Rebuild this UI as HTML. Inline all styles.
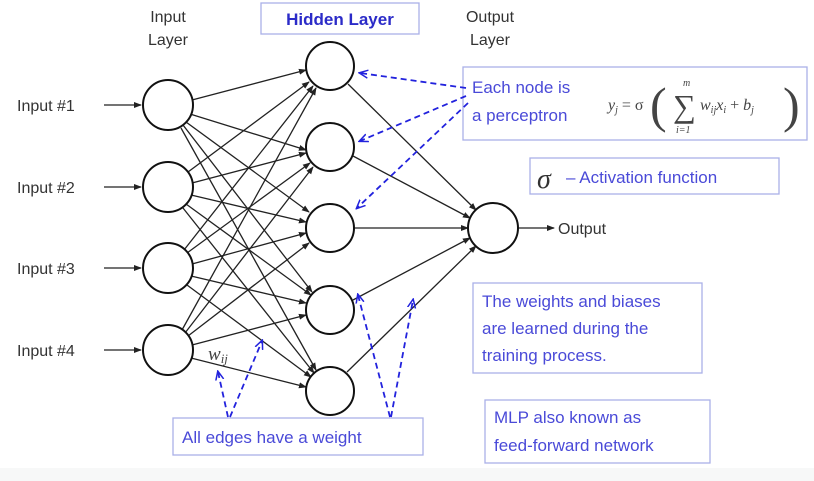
<!DOCTYPE html>
<html><head><meta charset="utf-8"><style>
html,body{margin:0;padding:0;background:#fff;}
svg{display:block;font-family:"Liberation Sans",sans-serif;}
</style></head><body>
<svg width="814" height="481" viewBox="0 0 814 481" xmlns="http://www.w3.org/2000/svg">
<defs>
<marker id="a" markerWidth="8" markerHeight="8" refX="7" refY="4" orient="auto" markerUnits="userSpaceOnUse"><path d="M0,1 L8,4 L0,7 z" fill="#222"/></marker>
<marker id="b" markerWidth="10" markerHeight="10" refX="8" refY="5" orient="auto" markerUnits="userSpaceOnUse"><path d="M0,1 L9,5 L0,9" fill="none" stroke="#2222dd" stroke-width="1.5"/></marker>
</defs>
<rect x="0" y="468" width="814" height="13" fill="#f7f8f8"/>
<g stroke="#222" stroke-width="1.3" marker-end="url(#a)" fill="none">
<line x1="192" y1="100" x2="306" y2="70"/><line x1="190" y1="114" x2="306" y2="150"/><line x1="186" y1="122" x2="309" y2="212"/><line x1="183" y1="125" x2="312" y2="292"/><line x1="181" y1="128" x2="316" y2="370"/>
<line x1="188" y1="172" x2="309" y2="82"/><line x1="192" y1="183" x2="306" y2="153"/><line x1="191" y1="195" x2="306" y2="222"/><line x1="186" y1="204" x2="311" y2="295"/><line x1="183" y1="208" x2="314" y2="373"/>
<line x1="184" y1="250" x2="313" y2="86"/><line x1="187" y1="253" x2="310" y2="163"/><line x1="192" y1="264" x2="306" y2="233"/><line x1="191" y1="276" x2="306" y2="303"/><line x1="187" y1="285" x2="311" y2="377"/>
<line x1="182" y1="330" x2="316" y2="88"/><line x1="185" y1="333" x2="313" y2="167"/><line x1="188" y1="336" x2="309" y2="243"/><line x1="192" y1="345" x2="306" y2="315"/><line x1="191" y1="358" x2="306" y2="387"/>
<line x1="348" y1="84" x2="476" y2="210"/><line x1="353" y1="156" x2="470" y2="218"/><line x1="354" y1="228" x2="468" y2="228"/><line x1="353" y1="300" x2="470" y2="238"/><line x1="347" y1="372" x2="476" y2="246"/>
<line x1="104" y1="105" x2="141" y2="105"/><line x1="104" y1="187" x2="141" y2="187"/><line x1="104" y1="268" x2="141" y2="268"/><line x1="104" y1="350" x2="141" y2="350"/>
<line x1="518" y1="228" x2="554" y2="228"/>
</g>
<g fill="#fff" stroke="#111" stroke-width="2">
<circle cx="168" cy="105" r="25"/><circle cx="168" cy="187" r="25"/><circle cx="168" cy="268" r="25"/><circle cx="168" cy="350" r="25"/>
<circle cx="330" cy="66" r="24"/><circle cx="330" cy="147" r="24"/><circle cx="330" cy="228" r="24"/><circle cx="330" cy="310" r="24"/><circle cx="330" cy="391" r="24"/>
<circle cx="493" cy="228" r="25"/>
</g>
<g fill="#333" font-size="16">
<text x="17" y="111">Input #1</text><text x="17" y="193">Input #2</text><text x="17" y="274">Input #3</text><text x="17" y="356">Input #4</text>
<text x="168" y="22" text-anchor="middle">Input</text><text x="168" y="45" text-anchor="middle">Layer</text>
<text x="490" y="22" text-anchor="middle">Output</text><text x="490" y="45" text-anchor="middle">Layer</text>
<text x="558" y="234">Output</text>
</g>
<text x="208" y="360" font-family="Liberation Serif,serif" font-style="italic" font-size="19" fill="#444">w<tspan font-size="13" dy="3">ij</tspan></text>
<g fill="none" stroke="#aab0e8" stroke-width="1.3">
<rect x="261" y="3" width="158" height="31"/>
<rect x="463" y="67" width="344" height="73"/>
<rect x="530" y="158" width="249" height="36"/>
<rect x="473" y="283" width="229" height="90"/>
<rect x="485" y="400" width="225" height="63"/>
<rect x="173" y="418" width="250" height="37"/>
</g>
<text x="340" y="25" text-anchor="middle" font-size="17" font-weight="bold" fill="#2b2bc8">Hidden Layer</text>
<g fill="#4a4ad8" font-size="17">
<text x="472" y="93">Each node is</text><text x="472" y="121">a perceptron</text>
<text x="566" y="183">– Activation function</text>
<text x="482" y="307">The weights and biases</text><text x="482" y="334">are learned during the</text><text x="482" y="361">training process.</text>
<text x="494" y="423">MLP also known as</text><text x="494" y="451">feed-forward network</text>
<text x="182" y="443">All edges have a weight</text>
</g>
<text x="537" y="188" font-family="Liberation Serif,serif" font-style="italic" font-size="28" fill="#333">σ</text>
<g font-family="Liberation Serif,serif" fill="#444" font-style="italic">
<text x="608" y="110" font-size="16">y<tspan font-size="10" dy="3">j</tspan><tspan dy="-3" font-style="normal"> = σ</tspan></text>
<text x="650" y="122" font-size="50" font-style="normal" font-weight="100">(</text>
<text x="673" y="117" font-size="32" font-style="normal">∑</text>
<text x="683" y="86" font-size="10">m</text>
<text x="676" y="133" font-size="10">i=1</text>
<text x="700" y="110" font-size="16">w<tspan font-size="10" dy="3">ij</tspan><tspan dy="-3">x</tspan><tspan font-size="10" dy="3">i</tspan><tspan dy="-3" font-style="normal"> + </tspan>b<tspan font-size="10" dy="3">j</tspan></text>
<text x="783" y="122" font-size="50" font-style="normal">)</text>
</g>
<g stroke="#2222dd" stroke-width="1.8" stroke-dasharray="6,4" fill="none" marker-end="url(#b)">
<line x1="466" y1="88" x2="360" y2="73"/>
<line x1="466" y1="96" x2="360" y2="141"/>
<line x1="468" y1="103" x2="357" y2="208"/>
<line x1="228" y1="417" x2="218" y2="372"/>
<line x1="230" y1="417" x2="262" y2="341"/>
<line x1="390" y1="417" x2="358" y2="295"/>
<line x1="391" y1="417" x2="413" y2="300"/>
</g>
</svg>
</body></html>
